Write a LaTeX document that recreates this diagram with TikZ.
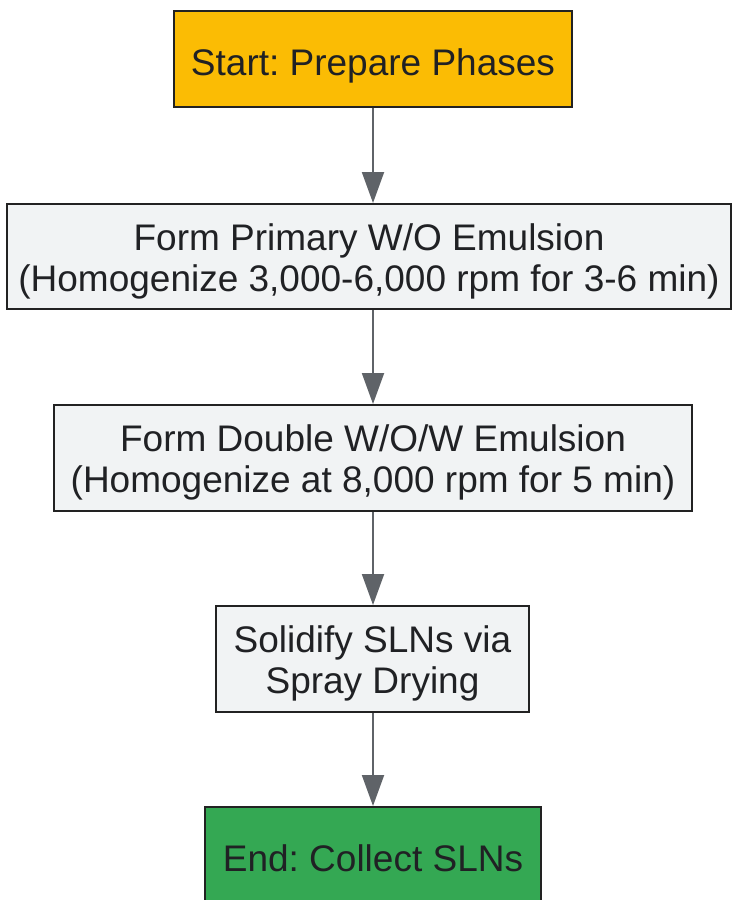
\documentclass[tikz,border=0pt]{standalone}
\usepackage{fontspec}
\setmainfont{Liberation Sans}
\frenchspacing
\usetikzlibrary{arrows.meta}
\definecolor{startfill}{HTML}{FBBC04}
\definecolor{stepfill}{HTML}{F1F3F4}
\definecolor{endfill}{HTML}{34A853}
\definecolor{boxline}{HTML}{222222}
\definecolor{arrowgray}{HTML}{5F6368}
\definecolor{textgray}{HTML}{202124}
\tikzset{
    stage/.style={draw=boxline, line width=2pt, fill=stepfill, inner sep=0pt,
        align=center, text=textgray, font=\fontsize{37}{41}\selectfont},
    oneline/.style={text height=32pt, text depth=0pt},
    twoline/.style={text height=69pt, text depth=0pt},
    flow/.style={draw=arrowgray, line width=2pt,
        -{Triangle[width=22pt,length=31pt]}}
}
\begin{document}
\begin{tikzpicture}[x=1pt,y=-1pt]
    \useasboundingbox (0,0) rectangle (732,900);

    % Boxes
    \node[stage, oneline, fill=startfill, minimum width=398pt, minimum height=96pt] (start) at (373,59) {Start: Prepare Phases};
    \node[stage, twoline, minimum width=724pt, minimum height=105pt] (primary) at (369,256.5) {Form Primary W/O Emulsion\\(Homogenize 3,000-6,000 rpm for 3-6 min)};
    \node[stage, twoline, minimum width=638pt, minimum height=106pt] (double) at (373,458) {Form Double W/O/W Emulsion\\(Homogenize at 8,000 rpm for 5 min)};
    \node[stage, twoline, minimum width=313pt, minimum height=106pt] (spray) at (372.5,659) {Solidify SLNs via\\Spray Drying};
    \node[stage, oneline, fill=endfill, minimum width=336pt, minimum height=96pt] (collect) at (373,855) {End: Collect SLNs};

    % Arrows
    \draw[flow] (start.south -| 373,0) -- (primary.north -| 373,0);
    \draw[flow] (primary.south -| 373,0) -- (double.north -| 373,0);
    \draw[flow] (double.south -| 373,0) -- (spray.north -| 373,0);
    \draw[flow] (spray.south -| 373,0) -- (collect.north -| 373,0);
\end{tikzpicture}
\end{document}
